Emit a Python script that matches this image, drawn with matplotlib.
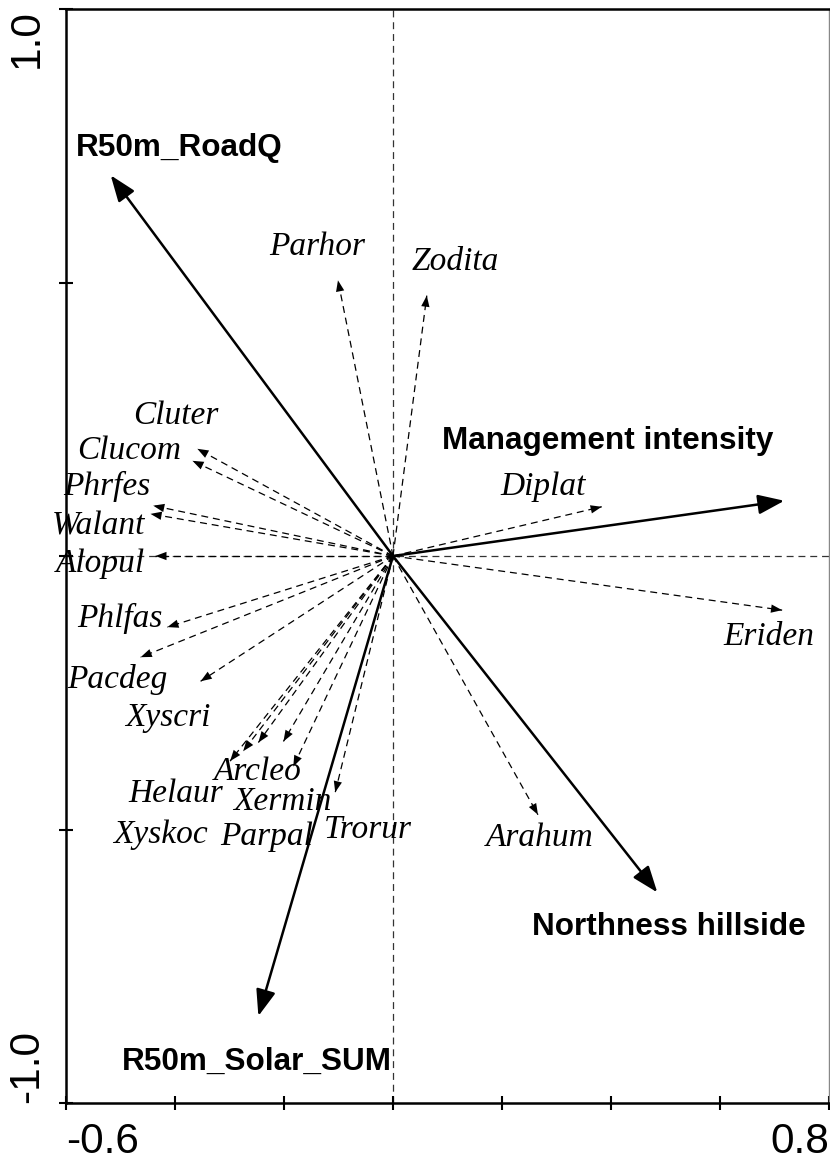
import matplotlib
matplotlib.use('Agg')
import matplotlib.pyplot as plt

plt.rcParams['lines.scale_dashes'] = False

# environmental variables (solid arrows)
env_names = ['R50m_RoadQ', 'Management intensity', 'Northness hillside', 'R50m_Solar_SUM']
env_x = [-0.518, 0.718, 0.485, -0.247]
env_y = [0.696, 0.101, -0.615, -0.841]
env_lab_x = [-0.392, 0.394, 0.507, -0.249]
env_lab_y = [0.745, 0.211, -0.678, -0.925]

# species (dashed arrows)
sp_names = ['Parhor', 'Zodita', 'Cluter', 'Clucom', 'Phrfes', 'Walant', 'Alopul',
            'Phlfas', 'Pacdeg', 'Xyscri', 'Helaur', 'Xyskoc', 'Arcleo', 'Xermin',
            'Parpal', 'Trorur', 'Arahum', 'Diplat', 'Eriden']
sp_x = [-0.101, 0.062, -0.359, -0.368, -0.440, -0.445, -0.436,
        -0.414, -0.463, -0.353, -0.299, -0.275, -0.247, -0.201,
        -0.183, -0.106, 0.266, 0.383, 0.714]
sp_y = [0.504, 0.476, 0.196, 0.174, 0.092, 0.077, 0.0,
        -0.130, -0.185, -0.229, -0.375, -0.357, -0.341, -0.339,
        -0.385, -0.432, -0.473, 0.090, -0.099]
sp_lab_x = [-0.139, 0.114, -0.399, -0.484, -0.526, -0.540, -0.537,
            -0.502, -0.505, -0.414, -0.399, -0.427, -0.249, -0.203,
            -0.231, -0.046, 0.269, 0.275, 0.690]
sp_lab_y = [0.566, 0.538, 0.256, 0.192, 0.128, 0.055, -0.015,
            -0.115, -0.225, -0.295, -0.434, -0.509, -0.394, -0.449,
            -0.513, -0.500, -0.515, 0.126, -0.148]

xticks = [-0.6, -0.4, -0.2, 0.0, 0.2, 0.4, 0.6, 0.8]
xticklabels = ['-0.6', '', '', '', '', '', '', '0.8']
yticks = [-1.0, -0.5, 0.0, 0.5, 1.0]
yticklabels = ['-1.0', '', '', '', '1.0']

fig = plt.figure(figsize=(8.3, 11.62), dpi=100, facecolor='white')
ax = fig.add_axes([66/830, 59/1162, 763/830, 1094/1162])
ax.set_xlim(-0.6, 0.8)
ax.set_ylim(-1.0, 1.0)

# zero lines
ax.axhline(0, color='#333333', lw=0.9, ls=(0, (5, 3.5)), zorder=1)
ax.axvline(0, color='#333333', lw=0.9, ls=(0, (5, 3.5)), zorder=1)

# species arrows
for name, x, y, lx, ly in zip(sp_names, sp_x, sp_y, sp_lab_x, sp_lab_y):
    ax.plot([0, x], [0, y], color='black', lw=0.9, ls=(0, (5, 3.5)), zorder=2)
    ax.annotate('', xy=(x, y), xytext=(0, 0),
                arrowprops=dict(arrowstyle='-|>,head_length=0.8,head_width=0.3',
                                mutation_scale=10, lw=0, color='black',
                                shrinkA=0, shrinkB=0), zorder=3)
    ax.text(lx, ly, name, ha='center', va='center', fontsize=24,
            family='Liberation Serif', style='italic', zorder=4)

# environmental arrows
for name, x, y, lx, ly in zip(env_names, env_x, env_y, env_lab_x, env_lab_y):
    ax.annotate('', xy=(x, y), xytext=(0, 0),
                arrowprops=dict(arrowstyle='-|>,head_length=0.8,head_width=0.3',
                                mutation_scale=20, lw=1.8, color='black',
                                shrinkA=0, shrinkB=0), zorder=5)
    ax.text(lx, ly, name, ha='center', va='center', fontsize=22.7,
            family='Liberation Sans', weight='bold', zorder=6)

# axes styling
for side in ['left', 'bottom', 'top']:
    ax.spines[side].set_linewidth(1.8)
    ax.spines[side].set_color('black')
ax.spines['right'].set_linewidth(1.0)
ax.spines['right'].set_color('#888888')

ax.set_xticks(xticks)
ax.set_xticklabels(xticklabels, fontsize=30.5, family='Liberation Sans')
ax.set_yticks(yticks)
ax.set_yticklabels(yticklabels, fontsize=30.5, family='Liberation Sans', rotation=90)
ax.tick_params(direction='inout', length=9.5, width=1.5, pad=9)

xl = ax.get_xticklabels()
xl[0].set_ha('left')
xl[-1].set_ha('right')
yl = ax.get_yticklabels()
yl[0].set_va('bottom')
yl[-1].set_va('top')

fig.savefig('out.png', dpi=100, facecolor='white')
